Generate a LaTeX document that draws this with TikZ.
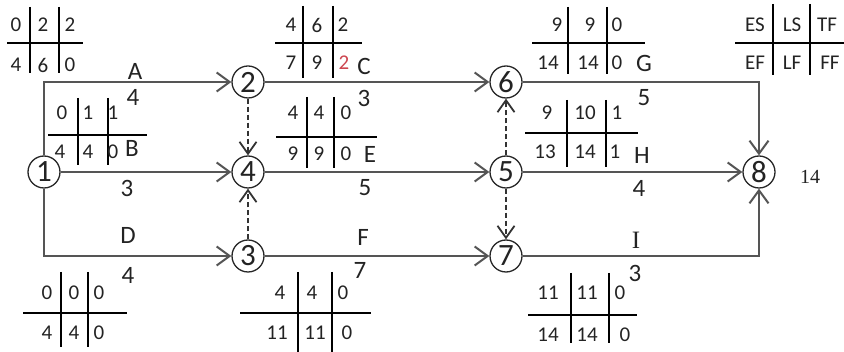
\documentclass[tikz,border=0pt]{standalone}
\usepackage{fontspec}
\setmainfont{Carlito}
\newfontfamily\serifface{Liberation Serif}
\usetikzlibrary{arrows.meta}
\definecolor{arr}{RGB}{85,85,85}
\definecolor{txt}{RGB}{35,35,35}
\definecolor{redd}{RGB}{205,70,80}
\tikzset{
  ev/.style={draw=black!85, line width=1.3pt, circle, minimum size=32pt, inner sep=0pt, font=\fontsize{31}{33}\selectfont, text=txt},
  act/.style={draw=arr, line width=2pt, -{Straight Barb[length=13pt,width=19pt]}},
  dum/.style={draw=black!80, line width=1.8pt, dash pattern=on 5pt off 3pt, -{Straight Barb[length=12pt,width=17pt]}},
  tabline/.style={draw=black, line width=1.4pt},
  dig/.style={inner sep=0pt, font=\fontsize{21}{23}\selectfont, text=txt},
  lab/.style={inner sep=0pt, font=\fontsize{25}{27}\selectfont, text=txt},
}
\begin{document}
\begin{tikzpicture}[x=1pt,y=-1pt]
\useasboundingbox (0,0) rectangle (844,352);
% events
\node[ev] (n1) at (44,172) {1};
\node[ev] (n2) at (248,82) {2};
\node[ev] (n4) at (248,172) {4};
\node[ev] (n3) at (248,256) {3};
\node[ev] (n6) at (506,82) {6};
\node[ev] (n5) at (506,172) {5};
\node[ev] (n7) at (506,256) {7};
\node[ev] (n8) at (759,172) {8};
\node[inner sep=0pt, font=\serifface\fontsize{20}{22}\selectfont, text=txt] (t14) at (810,177) {14};
% activities
\draw[act] (n1) |- (n2);
\draw[act] (n1) -- (n4);
\draw[act] (n1) |- (n3);
\draw[act] (n2) -- (n6);
\draw[act] (n4) -- (n5);
\draw[act] (n3) -- (n7);
\draw[act] (n6) -| (n8);
\draw[act] (n5) -- (n8);
\draw[act] (n7) -| (n8);
% dummies
\draw[dum] (n2) -- (n4);
\draw[dum] (n3) -- (n4);
\draw[dum] (n5) -- (n6);
\draw[dum] (n5) -- (n7);
% activity labels
\node[lab] (lA) at (135,71) {A};   \node[lab] (dA) at (133,97) {4};
\node[lab] (lB) at (132,148) {B};  \node[lab] (dB) at (127,188) {3};
\node[lab] (lD) at (128,235) {D};  \node[lab] (dD) at (128,275) {4};
\node[lab] (lC) at (364,66) {C};   \node[lab] (dC) at (364,98) {3};
\node[lab] (lE) at (370,154) {E};  \node[lab] (dE) at (365,188) {5};
\node[lab] (lF) at (363,237) {F};  \node[lab] (dF) at (360,270) {7};
\node[lab] (lG) at (644,63) {G};   \node[lab] (dG) at (644,98) {5};
\node[lab] (lH) at (642,155) {H};  \node[lab] (dH) at (639,188) {4};
\node[lab, font=\serifface\fontsize{25}{27}\selectfont] (lI) at (636,240) {I};  \node[lab] (dI) at (635,273) {3};
% table A
\draw[tabline] (7,43) -- (83,43) (30,7) -- (30,73) (59,7) -- (59,73);
\foreach \x/\t [count=\i] in {16/0,43/2,70/2} \node[dig] (tA-t\i) at (\x,25) {\t};
\foreach \x/\t [count=\i] in {16/4,43/6,70/0} \node[dig] (tA-b\i) at (\x,65) {\t};
% table B
\draw[tabline] (48,135) -- (147,135) (78,98) -- (78,165) (108,98) -- (108,165);
\foreach \x/\t [count=\i] in {62/0,88/1,113/1} \node[dig] (tB-t\i) at (\x,113) {\t};
\foreach \x/\t [count=\i] in {60/4,88/4,113/0} \node[dig] (tB-b\i) at (\x,152) {\t};
% table C
\draw[tabline] (275,43) -- (362,43) (303,6) -- (303,78) (333,6) -- (333,78);
\foreach \x/\t [count=\i] in {291/4,317/6,343/2} \node[dig] (tC-t\i) at (\x,25) {\t};
\foreach \x/\t [count=\i] in {291/7,317/9} \node[dig] (tC-b\i) at (\x,63) {\t};
\node[dig, text=redd] (tC-b3) at (344,63) {2};
% table E
\draw[tabline] (276,137) -- (377,137) (307,97) -- (307,168) (334,97) -- (334,168);
\foreach \x/\t [count=\i] in {293/4,319/4,346/0} \node[dig] (tE-t\i) at (\x,113) {\t};
\foreach \x/\t [count=\i] in {293/9,319/9,346/0} \node[dig] (tE-b\i) at (\x,154) {\t};
% table G
\draw[tabline] (532,43) -- (645,43) (568,7) -- (568,74) (607,7) -- (607,74);
\foreach \x/\t [count=\i] in {557/9,590/9,617/0} \node[dig] (tG-t\i) at (\x,25) {\t};
\foreach \x/\t [count=\i] in {548/14,588/14,617/0} \node[dig] (tG-b\i) at (\x,63) {\t};
% table H
\draw[tabline] (525,133) -- (638,133) (567,100) -- (567,167) (606,100) -- (606,167);
\foreach \x/\t [count=\i] in {547/9,585/10,617/1} \node[dig] (tH-t\i) at (\x,113) {\t};
\foreach \x/\t [count=\i] in {545/13,585/14,615/1} \node[dig] (tH-b\i) at (\x,152) {\t};
% legend
\draw[tabline] (735,43) -- (844,43) (773,4) -- (773,75) (810,4) -- (810,75);
\foreach \x/\t [count=\i] in {755/ES,792/LS,827/TF} \node[dig] (tL-t\i) at (\x,25) {\t};
\foreach \x/\t [count=\i] in {755/EF,792/LF,830/FF} \node[dig] (tL-b\i) at (\x,63) {\t};
% table D
\draw[tabline] (23,313) -- (127,313) (61,272) -- (61,347) (88,272) -- (88,347);
\foreach \x/\t [count=\i] in {47/0,74/0,99/0} \node[dig] (tD-t\i) at (\x,293) {\t};
\foreach \x/\t [count=\i] in {47/4,74/4,99/0} \node[dig] (tD-b\i) at (\x,333) {\t};
% table F
\draw[tabline] (240,313) -- (371,313) (298,272) -- (298,352) (332,272) -- (332,352);
\foreach \x/\t [count=\i] in {280/4,312/4,343/0} \node[dig] (tF-t\i) at (\x,293) {\t};
\foreach \x/\t [count=\i] in {277/11,315/11,347/0} \node[dig] (tF-b\i) at (\x,333) {\t};
% table I
\draw[tabline] (528,315) -- (637,315) (571,273) -- (571,343) (609,273) -- (609,343);
\foreach \x/\t [count=\i] in {548/11,587/11,620/0} \node[dig] (tI-t\i) at (\x,293) {\t};
\foreach \x/\t [count=\i] in {548/14,587/14,625/0} \node[dig] (tI-b\i) at (\x,335) {\t};
\end{tikzpicture}
\end{document}
